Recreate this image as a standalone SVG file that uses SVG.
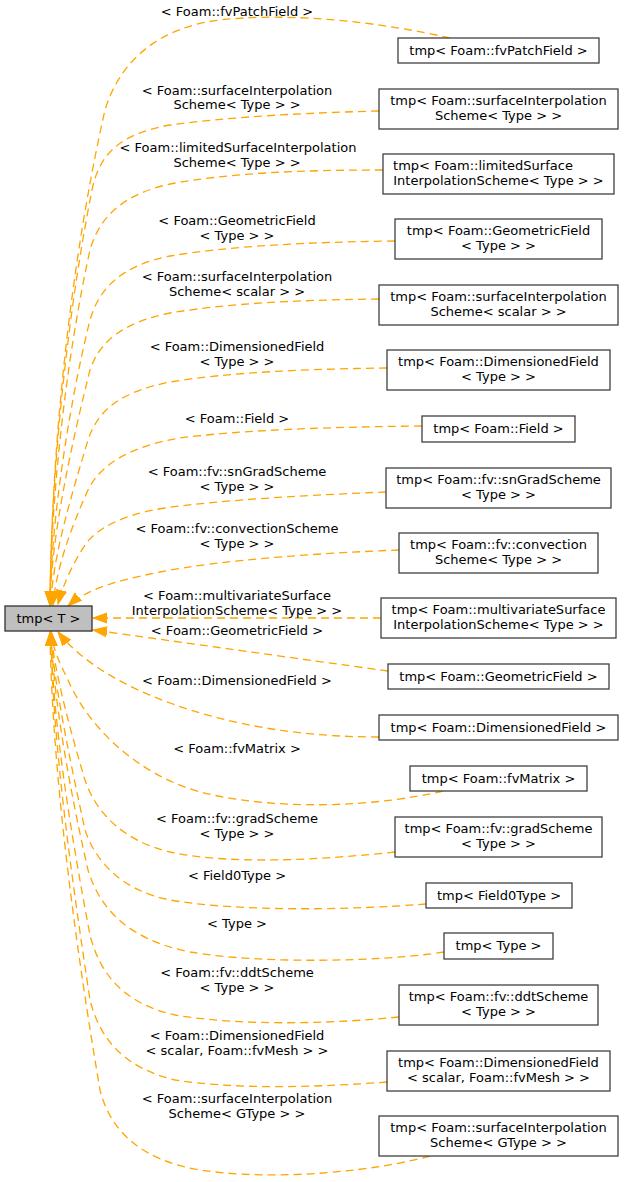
<svg xmlns="http://www.w3.org/2000/svg" width="625" height="1182" viewBox="0 0 625 1182">
<style>
text{font-family:"DejaVu Sans","Noto Sans",sans-serif;font-size:13px;fill:#000;text-anchor:middle}
.n rect{fill:#fff;stroke:#404040;stroke-width:1.3}
.m rect{fill:#bfbfbf;stroke:#303030;stroke-width:1.3}
.e path{fill:none;stroke:#ffa500;stroke-width:1.3;stroke-dasharray:8,5;marker-end:url(#ah)}
</style>
<defs>
<marker id="ah" markerUnits="userSpaceOnUse" viewBox="0 -6 16 12" markerWidth="16" markerHeight="12" refX="14" refY="0" orient="auto">
<path d="M0,-5 L14,0 L0,5 z" fill="#ffa500" stroke="#ffa500" stroke-width="1"/>
</marker>
</defs>
<rect width="625" height="1182" fill="#fff"/>
<g id="edges" class="e">
<path d="M450,38 C380,22 290,12 220,20 C160,27 120,60 105,110 C80,220 52,400 50,605"/>
<path d="M379,111 C300,113 230,117 170,125 C125,133 100,150 92,190 C72,290 51,450 50,605"/>
<path d="M383,170 C300,170 230,173 170,184 C125,194 100,215 90,250 C70,340 51,480 50,605"/>
<path d="M395,241 C310,242 230,246 170,256 C125,265 100,285 90,320 C70,400 51,520 50,605"/>
<path d="M379,299 C300,300 230,303 170,313 C125,322 100,340 90,370 C70,450 51,540 50,605"/>
<path d="M387,368 C310,369 230,372 170,382 C120,392 98,410 88,440 C70,500 52,560 51,605"/>
<path d="M422,426 C330,427 240,430 180,438 C130,446 100,465 88,490 C70,530 56,570 53,605"/>
<path d="M386,492 C310,495 220,500 165,508 C120,515 95,530 85,545 C72,565 63,585 58,604"/>
<path d="M399,550 C320,553 220,560 160,572 C120,580 88,588 68,606"/>
<path d="M381,618 L93,618"/>
<path d="M388,671 C300,659 180,642 93,630"/>
<path d="M379,737 C300,737 230,725 170,703 C120,685 80,660 58,632"/>
<path d="M443,791 C380,806 280,812 200,792 C130,772 85,720 68,680 C58,660 52,645 51,632"/>
<path d="M395,852 C320,860 230,865 170,852 C120,840 95,810 85,780 C70,730 54,670 51,632"/>
<path d="M426,904 C350,910 240,912 170,900 C120,890 95,860 85,830 C70,760 53,680 51,632"/>
<path d="M444,952 C380,962 260,964 190,952 C130,940 100,910 88,870 C72,800 53,700 51,632"/>
<path d="M399,1017 C330,1024 240,1026 175,1015 C125,1004 100,975 90,935 C72,840 52,720 51,632"/>
<path d="M387,1082 C320,1087 240,1090 175,1080 C125,1068 100,1040 90,1000 C72,880 52,740 51,632"/>
<path d="M430,1156 C380,1170 280,1182 200,1170 C140,1160 110,1130 100,1090 C78,960 52,780 50,632"/>
</g>
<g id="labels">
<text x="237" y="16">&lt; Foam::fvPatchField &gt;</text>
<text x="237" y="95">&lt; Foam::surfaceInterpolation</text>
<text x="237" y="109">Scheme&lt; Type &gt; &gt;</text>
<text x="238" y="151.5">&lt; Foam::limitedSurfaceInterpolation</text>
<text x="237" y="166.5">Scheme&lt; Type &gt; &gt;</text>
<text x="237" y="224.5">&lt; Foam::GeometricField</text>
<text x="237" y="239.5">&lt; Type &gt; &gt;</text>
<text x="237" y="281">&lt; Foam::surfaceInterpolation</text>
<text x="237" y="296">Scheme&lt; scalar &gt; &gt;</text>
<text x="237" y="351">&lt; Foam::DimensionedField</text>
<text x="237" y="365.5">&lt; Type &gt; &gt;</text>
<text x="237" y="423">&lt; Foam::Field &gt;</text>
<text x="237" y="475.5">&lt; Foam::fv::snGradScheme</text>
<text x="237" y="490.5">&lt; Type &gt; &gt;</text>
<text x="237" y="533">&lt; Foam::fv::convectionScheme</text>
<text x="237" y="548">&lt; Type &gt; &gt;</text>
<text x="237" y="599.5">&lt; Foam::multivariateSurface</text>
<text x="237" y="614.5">InterpolationScheme&lt; Type &gt; &gt;</text>
<text x="237" y="634.5">&lt; Foam::GeometricField &gt;</text>
<text x="237" y="684.5">&lt; Foam::DimensionedField &gt;</text>
<text x="237" y="753">&lt; Foam::fvMatrix &gt;</text>
<text x="237" y="823">&lt; Foam::fv::gradScheme</text>
<text x="237" y="837.5">&lt; Type &gt; &gt;</text>
<text x="237" y="879.5">&lt; Field0Type &gt;</text>
<text x="237" y="928">&lt; Type &gt;</text>
<text x="237" y="977">&lt; Foam::fv::ddtScheme</text>
<text x="237" y="991.5">&lt; Type &gt; &gt;</text>
<text x="237" y="1040">&lt; Foam::DimensionedField</text>
<text x="237" y="1054.5">&lt; scalar, Foam::fvMesh &gt; &gt;</text>
<text x="237" y="1103">&lt; Foam::surfaceInterpolation</text>
<text x="237" y="1117.5">Scheme&lt; GType &gt; &gt;</text>
</g>
<g id="main" class="m"><rect x="5" y="606" width="87" height="25"/><text x="48.5" y="623">tmp&lt; T &gt;</text></g>
<g id="n1" class="n"><rect x="398" y="38" width="201" height="25"/><text x="498.5" y="55">tmp&lt; Foam::fvPatchField &gt;</text></g>
<g id="n2" class="n"><rect x="379" y="89" width="239" height="40"/><text x="498.5" y="105">tmp&lt; Foam::surfaceInterpolation</text><text x="498.5" y="120">Scheme&lt; Type &gt; &gt;</text></g>
<g id="n3" class="n"><rect x="383" y="154" width="231" height="40"/><text x="483" y="170">tmp&lt; Foam::limitedSurface</text><text x="498.5" y="185">InterpolationScheme&lt; Type &gt; &gt;</text></g>
<g id="n4" class="n"><rect x="395" y="219" width="207" height="40"/><text x="498.5" y="235">tmp&lt; Foam::GeometricField</text><text x="498.5" y="250">&lt; Type &gt; &gt;</text></g>
<g id="n5" class="n"><rect x="379" y="285" width="239" height="40"/><text x="498.5" y="301">tmp&lt; Foam::surfaceInterpolation</text><text x="498.5" y="316">Scheme&lt; scalar &gt; &gt;</text></g>
<g id="n6" class="n"><rect x="387" y="350" width="223" height="40"/><text x="498.5" y="366">tmp&lt; Foam::DimensionedField</text><text x="498.5" y="381">&lt; Type &gt; &gt;</text></g>
<g id="n7" class="n"><rect x="422" y="416" width="153" height="26"/><text x="498.5" y="433">tmp&lt; Foam::Field &gt;</text></g>
<g id="n8" class="n"><rect x="386" y="468" width="225" height="40"/><text x="498.5" y="484">tmp&lt; Foam::fv::snGradScheme</text><text x="498.5" y="499">&lt; Type &gt; &gt;</text></g>
<g id="n9" class="n"><rect x="399" y="533" width="199" height="40"/><text x="498.5" y="549">tmp&lt; Foam::fv::convection</text><text x="498.5" y="564">Scheme&lt; Type &gt; &gt;</text></g>
<g id="n10" class="n"><rect x="381" y="598" width="235" height="40"/><text x="498.5" y="614">tmp&lt; Foam::multivariateSurface</text><text x="498.5" y="629">InterpolationScheme&lt; Type &gt; &gt;</text></g>
<g id="n11" class="n"><rect x="388" y="664" width="221" height="25"/><text x="498.5" y="681">tmp&lt; Foam::GeometricField &gt;</text></g>
<g id="n12" class="n"><rect x="379" y="715" width="239" height="25"/><text x="498.5" y="732">tmp&lt; Foam::DimensionedField &gt;</text></g>
<g id="n13" class="n"><rect x="410" y="766" width="177" height="25"/><text x="498.5" y="783">tmp&lt; Foam::fvMatrix &gt;</text></g>
<g id="n14" class="n"><rect x="395" y="817" width="207" height="40"/><text x="498.5" y="833">tmp&lt; Foam::fv::gradScheme</text><text x="498.5" y="848">&lt; Type &gt; &gt;</text></g>
<g id="n15" class="n"><rect x="426" y="883" width="146" height="25"/><text x="499" y="900">tmp&lt; Field0Type &gt;</text></g>
<g id="n16" class="n"><rect x="444" y="933" width="109" height="26"/><text x="498.5" y="950">tmp&lt; Type &gt;</text></g>
<g id="n17" class="n"><rect x="399" y="985" width="199" height="40"/><text x="498.5" y="1001">tmp&lt; Foam::fv::ddtScheme</text><text x="498.5" y="1016">&lt; Type &gt; &gt;</text></g>
<g id="n18" class="n"><rect x="387" y="1051" width="223" height="40"/><text x="498.5" y="1067">tmp&lt; Foam::DimensionedField</text><text x="498.5" y="1082">&lt; scalar, Foam::fvMesh &gt; &gt;</text></g>
<g id="n19" class="n"><rect x="379" y="1116" width="239" height="40"/><text x="498.5" y="1132">tmp&lt; Foam::surfaceInterpolation</text><text x="498.5" y="1147">Scheme&lt; GType &gt; &gt;</text></g>
</svg>
